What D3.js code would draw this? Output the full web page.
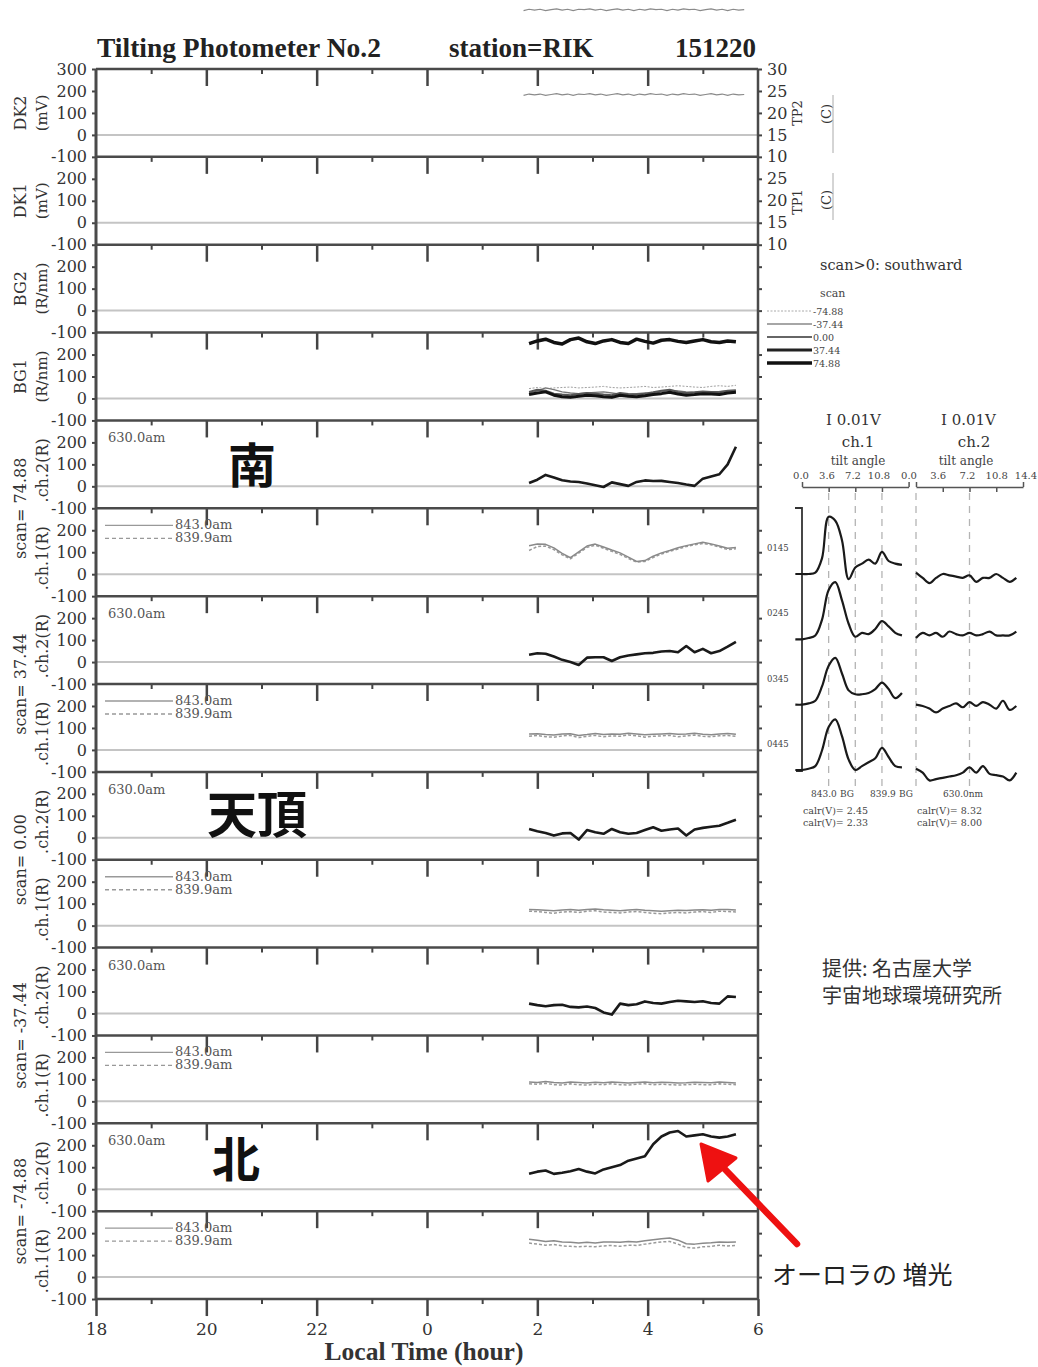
<!DOCTYPE html>
<html>
<head>
<meta charset="utf-8">
<script src="https://cdn.jsdelivr.net/npm/d3@7"></script>
<style>body{margin:0;background:#fff}</style>
</head>
<body>
<div id="chart"></div>
<script>
// ---- data ----
var hours = [1.85,2.0,2.15,2.3,2.45,2.6,2.75,2.9,3.05,3.2,3.35,3.5,3.65,3.8,3.95,4.1,4.25,4.4,4.55,4.7,4.85,5.0,5.15,5.3,5.45,5.6];

var tpHours = [1.75,1.85,1.95,2.05,2.15,2.25,2.35,2.45,2.55,2.65,2.75,2.85,2.95,3.05,3.15,3.25,3.35,3.45,3.55,3.65,3.75,3.85,3.95,4.05,4.15,4.25,4.35,4.45,4.55,4.65,4.75,4.85,4.95,5.05,5.15,5.25,5.35,5.45,5.55,5.65,5.75];
var tp2 = [24.0,24.3,24.1,24.3,24.0,24.2,24.4,24.1,24.3,24.0,24.3,24.2,24.4,24.1,24.3,24.0,24.2,24.4,24.1,24.3,24.0,24.3,24.1,24.4,24.2,24.3,24.0,24.3,24.1,24.4,24.2,24.3,24.0,24.2,24.4,24.1,24.3,24.0,24.3,24.1,24.2];
var tp1 = [63.3,63.6,63.4,63.6,63.3,63.5,63.7,63.4,63.6,63.3,63.6,63.5,63.7,63.4,63.6,63.3,63.5,63.7,63.4,63.6,63.3,63.6,63.4,63.7,63.5,63.6,63.3,63.6,63.4,63.7,63.5,63.6,63.3,63.5,63.7,63.4,63.6,63.3,63.6,63.4,63.5];

// BG1 (R/nm) per scan angle
var bg1_m7488 = [45,50,45,48,50,52,48,50,52,55,50,48,50,52,55,50,52,55,58,55,52,50,55,58,55,60];
var bg1_m3744 = [25,35,48,40,30,25,22,25,28,30,25,20,18,22,25,22,30,38,35,30,28,25,30,32,35,30];
var bg1_000   = [30,40,35,22,18,15,20,25,22,18,15,25,20,18,22,28,35,40,30,25,28,32,30,28,35,38];
var bg1_3744  = [18,25,30,15,8,5,10,15,12,8,5,15,10,8,12,18,22,28,20,15,18,22,20,18,25,28];
var bg1_7488  = [250,262,270,255,248,268,275,258,250,262,268,255,250,270,260,252,265,268,260,255,262,268,258,255,262,258];

// ch.2 630.0nm and ch.1 843.0 / 839.9nm (R) per scan angle
var s7488_ch2 = [15,30,52,40,28,22,20,13,5,-3,18,10,2,20,27,24,25,20,15,8,2,35,45,55,100,180];
var s7488_843 = [130,137,136,120,95,75,102,128,137,124,110,97,78,58,62,82,97,108,120,130,138,145,138,128,118,122];
var s7488_839 = [108,126,128,112,88,70,96,122,132,118,104,90,72,55,58,76,92,104,115,126,134,140,134,124,112,116];
var s3744_ch2 = [33,40,38,25,10,0,-13,20,22,22,5,22,30,35,40,42,48,50,45,73,45,60,40,50,70,92];
var s3744_843 = [72,74,70,68,72,74,66,70,75,70,73,71,76,73,69,71,73,75,71,73,76,71,69,73,75,71];
var s3744_839 = [62,66,60,58,64,66,56,62,66,60,64,62,68,64,58,62,64,66,60,64,68,62,60,64,66,62];
var s000_ch2  = [40,30,22,10,20,22,-8,35,25,18,40,25,18,22,35,48,32,38,42,10,38,45,50,55,68,82];
var s000_843  = [74,72,70,68,71,73,70,74,76,72,70,68,71,73,70,68,66,68,70,69,71,72,70,74,73,71];
var s000_839  = [66,64,60,56,62,64,60,66,68,62,60,58,62,64,60,56,54,58,60,58,62,64,60,66,64,62];
var sm3744_ch2 = [45,38,33,38,40,30,28,32,25,5,-5,45,38,42,55,48,45,52,58,55,52,56,48,45,78,75];
var sm3744_843 = [88,86,90,86,84,88,86,84,87,85,88,86,84,86,88,85,87,86,84,85,87,86,85,88,86,84];
var sm3744_839 = [80,78,82,76,74,80,76,74,78,76,80,76,74,78,80,76,78,76,74,76,78,76,76,80,78,76];
var sm7488_ch2 = [70,80,85,70,75,82,92,80,72,90,100,110,130,140,150,205,240,258,265,240,245,250,240,235,240,250];
var sm7488_843 = [172,168,162,165,160,158,155,158,155,160,160,158,162,160,165,170,175,178,168,152,150,154,156,160,158,160];
var sm7488_839 = [155,150,145,148,142,140,138,140,138,142,144,140,145,144,150,155,160,162,150,135,132,138,140,145,142,144];

var scanLabels = ["74.88","37.44","0.00","-37.44","-74.88"];
var legendScans = ["-74.88","-37.44","0.00","37.44","74.88"];
var panelTitles = [["DK2","(mV)"],["DK1","(mV)"],["BG2","(R/nm)"],["BG1","(R/nm)"]];

// right inset: tilt-angle profiles (mV)
var waveTimes = ["0145","0245","0345","0445"];
var ch1Angles = [-0.9,0,0.9,1.8,2.7,3.6,4.5,5.4,6.3,7.2,8.1,9.0,9.9,10.8,11.7,12.6,13.5];
var ch2Angles = [0,0.9,1.8,2.7,3.6,4.5,5.4,6.3,7.2,8.1,9.0,9.9,10.8,11.7,12.6,13.5];
var ch1_0145 = [0,0,0,1,12,44,41,26,-4,5,8,11,8,17,10,8,7];
var ch1_0245 = [0,0,1,3,15,38,44,30,12,2,5,4,8,14,10,5,3];
var ch1_0345 = [0,0,1,3,14,30,36,24,11,8,8,9,12,17,12,5,9];
var ch1_0445 = [0,0,1,3,15,33,39,26,8,0,3,6,9,17,10,3,2];
var ch2_0145 = [1,-3,-7,-3,0,-1,-2,-3,-1,-6,-3,-3,0,-3,-6,-3];
var ch2_0245 = [1,5,3,5,2,6,4,3,5,3,4,6,3,3,3,6];
var ch2_0345 = [0,-1,-3,-6,-3,-1,1,-2,2,-1,2,0,-3,3,-4,-1];
var ch2_0445 = [1,-2,-8,-7,-6,-5,-4,-2,2,-2,3,-3,-4,-5,-8,-2];
var ch1Ticks = [0,3.6,7.2,10.8];
var ch2Ticks = [0,3.6,7.2,10.8,14.4];

// ---- layout ----
var serif = "'DejaVu Serif', serif",
    times = "'Liberation Serif', serif",
    cjk = "'Noto Sans CJK JP', sans-serif";
var plotL = 96, plotR = 758, plotT = 69, ph = 87.86, np = 14;
var plotB = plotT + np * ph;

var svg = d3.select("#chart").append("svg")
    .attr("width", 1038).attr("height", 1367);

var x = d3.scaleLinear().domain([18, 30]).range([plotL, plotR]);
function lt(h) { return h < 12 ? h + 24 : h; }
function yOf(i) {
  return d3.scaleLinear().domain([-100, 300]).range([plotT + (i + 1) * ph, plotT + i * ph]);
}
var plain = function(d) { return String(d); };

// header
svg.append("text").attr("x", 97).attr("y", 57)
  .style("font-family", times).style("font-weight", "bold").style("font-size", "27.5px")
  .attr("fill", "#222").text("Tilting Photometer No.2");
svg.append("text").attr("x", 449).attr("y", 57)
  .style("font-family", times).style("font-weight", "bold").style("font-size", "27px")
  .attr("fill", "#222").text("station=RIK");
svg.append("text").attr("x", 756).attr("y", 57).attr("text-anchor", "end")
  .style("font-family", times).style("font-weight", "bold").style("font-size", "27px")
  .attr("fill", "#222").text("151220");

// panels
for (var i = 0; i < np; i++) {
  var y = yOf(i);
  var g = svg.append("g");

  // zero line
  g.append("line").attr("x1", plotL).attr("x2", plotR)
    .attr("y1", y(0)).attr("y2", y(0))
    .attr("stroke", "#c4c4c4").attr("stroke-width", 2);

  // ticks hanging from top border
  g.append("g").attr("transform", "translate(0," + y(300) + ")")
    .call(d3.axisBottom(x).tickValues([20, 22, 24, 26, 28]).tickSize(17).tickFormat(""))
    .call(function(a) { a.select(".domain").remove(); a.selectAll("line").attr("stroke", "#444").attr("stroke-width", 2.5); });
  g.append("g").attr("transform", "translate(0," + y(300) + ")")
    .call(d3.axisBottom(x).tickValues([19, 21, 23, 25, 27, 29]).tickSize(5).tickFormat(""))
    .call(function(a) { a.select(".domain").remove(); a.selectAll("line").attr("stroke", "#444").attr("stroke-width", 2); });

  // left axis
  g.append("g").attr("transform", "translate(" + plotL + ",0)")
    .call(d3.axisLeft(y).tickValues(i == 0 ? [300, 200, 100, 0, -100] : [200, 100, 0, -100])
      .tickSize(4).tickPadding(5).tickFormat(plain))
    .call(function(a) {
      a.select(".domain").remove();
      a.selectAll("line").attr("stroke", "#444").attr("stroke-width", 2);
      a.selectAll("text").attr("fill", "#333").style("font-family", serif).style("font-size", "16px");
    });

  // right ticks
  if (i > 1) {
    g.append("g").attr("transform", "translate(" + plotR + ",0)")
      .call(d3.axisRight(y).tickValues([200, 100, 0]).tickSize(4).tickFormat(""))
      .call(function(a) { a.select(".domain").remove(); a.selectAll("line").attr("stroke", "#444").attr("stroke-width", 2); });
  }

  // top border
  g.append("line").attr("x1", plotL).attr("x2", plotR)
    .attr("y1", y(300)).attr("y2", y(300))
    .attr("stroke", "#4a4a4a").attr("stroke-width", 2.5);
}

// bottom border and left/right frame
svg.append("line").attr("x1", plotL).attr("x2", plotR).attr("y1", plotB).attr("y2", plotB)
  .attr("stroke", "#4a4a4a").attr("stroke-width", 2.5);
svg.append("line").attr("x1", plotL).attr("x2", plotL).attr("y1", plotT).attr("y2", plotB)
  .attr("stroke", "#4a4a4a").attr("stroke-width", 3);
svg.append("line").attr("x1", plotR).attr("x2", plotR).attr("y1", plotT).attr("y2", plotB)
  .attr("stroke", "#4a4a4a").attr("stroke-width", 2.5);

// bottom time axis
svg.append("g").attr("transform", "translate(0," + plotB + ")")
  .call(d3.axisBottom(x).tickValues([18, 20, 22, 24, 26, 28, 30]).tickSize(17).tickPadding(7)
    .tickFormat(function(d) { return d % 24; }))
  .call(function(a) {
    a.select(".domain").remove();
    a.selectAll("line").attr("stroke", "#444").attr("stroke-width", 2.5);
    a.selectAll("text").attr("fill", "#333").style("font-family", serif).style("font-size", "17px");
  });
svg.append("g").attr("transform", "translate(0," + plotB + ")")
  .call(d3.axisBottom(x).tickValues([19, 21, 23, 25, 27, 29]).tickSize(5).tickFormat(""))
  .call(function(a) { a.select(".domain").remove(); a.selectAll("line").attr("stroke", "#444").attr("stroke-width", 2); });
svg.append("text").attr("x", 424).attr("y", 1360).attr("text-anchor", "middle")
  .style("font-family", times).style("font-weight", "bold").style("font-size", "25.5px")
  .attr("fill", "#333").text("Local Time (hour)");

// right temperature axes (TP2 on panel 0, TP1 on panel 1)
var tp2Scale = d3.scaleLinear().domain([10, 30]).range([plotT + ph, plotT]);
var tp1Scale = d3.scaleLinear().domain([10, 30]).range([plotT + 2 * ph, plotT + ph]);
[[tp2Scale, [30, 25, 20, 15, 10]], [tp1Scale, [25, 20, 15, 10]]].forEach(function(p) {
  svg.append("g").attr("transform", "translate(" + plotR + ",0)")
    .call(d3.axisRight(p[0]).tickValues(p[1]).tickSize(4).tickPadding(5))
    .call(function(a) {
      a.select(".domain").remove();
      a.selectAll("line").attr("stroke", "#444").attr("stroke-width", 2);
      a.selectAll("text").attr("fill", "#333").style("font-family", serif).style("font-size", "16px");
    });
});
function vtext(txt, cx, cy, size, fam, color) {
  svg.append("text").attr("transform", "translate(" + cx + "," + cy + ") rotate(-90)")
    .attr("text-anchor", "middle").attr("dominant-baseline", "central")
    .style("font-family", fam).style("font-size", size + "px").attr("fill", color || "#333").text(txt);
}
vtext("TP2", 797, 113, 13, serif);
vtext("(C)", 826, 114, 13, serif);
vtext("TP1", 797, 202, 13, serif);
vtext("(C)", 826, 200, 13, serif);
svg.append("line").attr("x1", 833).attr("x2", 833).attr("y1", 95).attr("y2", 153).attr("stroke", "#aaa");
svg.append("line").attr("x1", 833).attr("x2", 833).attr("y1", 173).attr("y2", 220).attr("stroke", "#aaa");

var tpLine2 = d3.line().x(function(d, k) { return x(lt(tpHours[k])); }).y(function(d) { return tp2Scale(d); });
var tpLine1 = d3.line().x(function(d, k) { return x(lt(tpHours[k])); }).y(function(d) { return tp1Scale(d); });
svg.append("path").attr("d", tpLine2(tp2)).attr("fill", "none").attr("stroke", "#8a8a8a").attr("stroke-width", 1.2);
svg.append("path").attr("d", tpLine1(tp1)).attr("fill", "none").attr("stroke", "#8a8a8a").attr("stroke-width", 1.2);

// panel titles (left)
panelTitles.forEach(function(t, k) {
  var cy = plotT + (k + 0.5) * ph;
  vtext(t[0], 20, cy, 16, serif);
  vtext(t[1], 42, cy, 15, serif);
});
scanLabels.forEach(function(s, k) {
  var i2 = 4 + 2 * k;
  vtext("scan= " + s, 20, plotT + (i2 + 1) * ph, 16, serif);
  vtext(".ch.2(R)", 42, plotT + (i2 + 0.5) * ph + 6, 16, serif);
  vtext(".ch.1(R)", 42, plotT + (i2 + 1.5) * ph + 6, 16, serif);
});

// series lines
function lineFor(i) {
  var y = yOf(i);
  return d3.line().x(function(d, k) { return x(lt(hours[k])); }).y(function(d) { return y(d); });
}
function draw(i, vals, color, w, dash) {
  svg.append("path").attr("d", lineFor(i)(vals)).attr("fill", "none")
    .attr("stroke", color).attr("stroke-width", w).attr("stroke-linejoin", "round")
    .attr("stroke-dasharray", dash || null);
}

// BG1
draw(3, bg1_m7488, "#a0a0a0", 1, "2,1.5");
draw(3, bg1_m3744, "#777", 1.3);
draw(3, bg1_000, "#555", 2);
draw(3, bg1_3744, "#111", 3);
draw(3, bg1_7488, "#111", 3.5);

var ch2Sets = [s7488_ch2, s3744_ch2, s000_ch2, sm3744_ch2, sm7488_ch2];
var ch843Sets = [s7488_843, s3744_843, s000_843, sm3744_843, sm7488_843];
var ch839Sets = [s7488_839, s3744_839, s000_839, sm3744_839, sm7488_839];

for (var k = 0; k < 5; k++) {
  var pi = 4 + 2 * k, pj = 5 + 2 * k;
  var ti = plotT + pi * ph, tj = plotT + pj * ph;
  // 630.0nm label
  svg.append("text").attr("x", 108).attr("y", ti + 22)
    .style("font-family", serif).style("font-size", "13px").attr("fill", "#555").text("630.0am");
  // ch.1 legend
  svg.append("line").attr("x1", 105).attr("x2", 173).attr("y1", tj + 17).attr("y2", tj + 17)
    .attr("stroke", "#999").attr("stroke-width", 1.3);
  svg.append("line").attr("x1", 105).attr("x2", 173).attr("y1", tj + 30).attr("y2", tj + 30)
    .attr("stroke", "#999").attr("stroke-width", 1.3).attr("stroke-dasharray", "4,3");
  svg.append("text").attr("x", 175).attr("y", tj + 21)
    .style("font-family", serif).style("font-size", "13px").attr("fill", "#555").text("843.0am");
  svg.append("text").attr("x", 175).attr("y", tj + 34)
    .style("font-family", serif).style("font-size", "13px").attr("fill", "#555").text("839.9am");

  draw(pi, ch2Sets[k], "#1a1a1a", 2.6);
  draw(pj, ch839Sets[k], "#9a9a9a", 1.5, "3,2");
  draw(pj, ch843Sets[k], "#8a8a8a", 1.5);
}

// big direction labels
svg.append("text").attr("x", 252).attr("y", 462).attr("text-anchor", "middle").attr("dominant-baseline", "central")
  .style("font-family", cjk).style("font-weight", "bold").style("font-size", "48px").attr("fill", "#111").text("南");
svg.append("text").attr("x", 207).attr("y", 811).attr("dominant-baseline", "central")
  .style("font-family", cjk).style("font-weight", "bold").style("font-size", "50px").attr("fill", "#111").text("天頂");
svg.append("text").attr("x", 212).attr("y", 1156).attr("dominant-baseline", "central")
  .style("font-family", cjk).style("font-weight", "bold").style("font-size", "48px").attr("fill", "#111").text("北");

// scan legend (right)
svg.append("text").attr("x", 820).attr("y", 270)
  .style("font-family", serif).style("font-size", "14.5px").attr("fill", "#333").text("scan>0: southward");
svg.append("text").attr("x", 820).attr("y", 297)
  .style("font-family", serif).style("font-size", "11px").attr("fill", "#444").text("scan");
var legY = d3.scalePoint().domain(legendScans).range([311, 363]);
var legStroke = ["#aaa", "#888", "#666", "#222", "#111"];
var legWidth = [1, 1.4, 2.2, 3, 3.4];
legendScans.forEach(function(s, k) {
  svg.append("line").attr("x1", 767).attr("x2", 812).attr("y1", legY(s)).attr("y2", legY(s))
    .attr("stroke", legStroke[k]).attr("stroke-width", legWidth[k])
    .attr("stroke-dasharray", k == 0 ? "2,1.5" : null);
  svg.append("text").attr("x", 813).attr("y", legY(s)).attr("dominant-baseline", "central")
    .style("font-family", serif).style("font-size", "9.5px").attr("fill", "#444").text(s);
});

// ---- right inset: tilt profiles ----
var a1 = d3.scaleLinear().domain([0, 14.4]).range([802, 908.6]);
var a2 = d3.scaleLinear().domain([0, 14.4]).range([916, 1023]);
var a1Lab = d3.scaleLinear().domain([0, 14.4]).range([801, 905]);
var a2Lab = d3.scaleLinear().domain([0, 14.4]).range([909, 1026]);
var base = d3.scalePoint().domain(waveTimes).range([574, 770]);
var amp = 1.3; // px per mV

[[826, 858, 858, "ch.1"], [941, 974, 966, "ch.2"]].forEach(function(h) {
  svg.append("text").attr("x", h[0]).attr("y", 425)
    .style("font-family", serif).style("font-size", "15px").attr("fill", "#333").text("I 0.01V");
  svg.append("text").attr("x", h[1]).attr("y", 447).attr("text-anchor", "middle")
    .style("font-family", serif).style("font-size", "15px").attr("fill", "#333").text(h[3]);
  svg.append("text").attr("x", h[2]).attr("y", 465).attr("text-anchor", "middle")
    .style("font-family", serif).style("font-size", "12px").attr("fill", "#444").text("tilt angle");
});
ch1Ticks.forEach(function(t) {
  svg.append("text").attr("x", a1Lab(t)).attr("y", 479).attr("text-anchor", "middle")
    .style("font-family", serif).style("font-size", "10px").attr("fill", "#444").text(t.toFixed(1));
});
ch2Ticks.forEach(function(t) {
  svg.append("text").attr("x", a2Lab(t)).attr("y", 479).attr("text-anchor", "middle")
    .style("font-family", serif).style("font-size", "10px").attr("fill", "#444").text(t.toFixed(1));
});
[a1, a2].forEach(function(sc) {
  svg.append("g").attr("transform", "translate(0,487)")
    .call(d3.axisBottom(sc).tickValues([3.6, 7.2, 10.8]).tickSize(5).tickSizeOuter(0).tickFormat(""))
    .call(function(a) { a.select(".domain").attr("stroke", "#555").attr("stroke-width", 1.5); a.selectAll("line").attr("stroke", "#555").attr("stroke-width", 1.5); });
  svg.append("g").attr("transform", "translate(0,487)")
    .call(d3.axisTop(sc).tickValues([0, 14.4]).tickSize(5).tickFormat(""))
    .call(function(a) { a.select(".domain").remove(); a.selectAll("line").attr("stroke", "#555").attr("stroke-width", 1.5); });
});
// guide lines
[[a1, 3.6], [a1, 7.2], [a1, 10.8], [a2, 0], [a2, 7.2]].forEach(function(p) {
  svg.append("line").attr("x1", p[0](p[1])).attr("x2", p[0](p[1])).attr("y1", 493).attr("y2", 790)
    .attr("stroke", "#b4b4b4").attr("stroke-width", 1.3).attr("stroke-dasharray", "7,6");
});
// bracket
svg.append("path").attr("d", "M795,508H802V771H796").attr("fill", "none")
  .attr("stroke", "#333").attr("stroke-width", 1.8);

var ch1Sets = [ch1_0145, ch1_0245, ch1_0345, ch1_0445];
var ch2WSets = [ch2_0145, ch2_0245, ch2_0345, ch2_0445];
waveTimes.forEach(function(t, k) {
  var b = base(t);
  var l1 = d3.line().curve(d3.curveCatmullRom)
    .x(function(d, j) { return a1(ch1Angles[j]); }).y(function(d) { return b - d * amp; });
  var l2 = d3.line().curve(d3.curveCatmullRom)
    .x(function(d, j) { return a2(ch2Angles[j]); }).y(function(d) { return b - d * amp; });
  svg.append("path").attr("d", l1(ch1Sets[k])).attr("fill", "none").attr("stroke", "#1a1a1a").attr("stroke-width", 2.2);
  svg.append("path").attr("d", l2(ch2WSets[k])).attr("fill", "none").attr("stroke", "#1a1a1a").attr("stroke-width", 2.2);
  svg.append("text").attr("x", 767).attr("y", b - 26).attr("dominant-baseline", "central")
    .style("font-family", serif).style("font-size", "8.5px").attr("fill", "#444").text(t);
});

var lab = [[811, "843.0"], [840, "BG"], [870, "839.9"], [899, "BG"], [943, "630.0nm"]];
lab.forEach(function(l) {
  svg.append("text").attr("x", l[0]).attr("y", 797)
    .style("font-family", serif).style("font-size", "9px").attr("fill", "#444").text(l[1]);
});
[[803, 814, "calr(V)= 2.45"], [803, 826, "calr(V)= 2.33"], [917, 814, "calr(V)= 8.32"], [917, 826, "calr(V)= 8.00"]]
  .forEach(function(l) {
    svg.append("text").attr("x", l[0]).attr("y", l[1])
      .style("font-family", serif).style("font-size", "9.5px").attr("fill", "#444").text(l[2]);
  });

// credits
svg.append("text").attr("x", 822).attr("y", 976)
  .style("font-family", cjk).style("font-size", "20px").attr("fill", "#333").text("提供: 名古屋大学");
svg.append("text").attr("x", 822).attr("y", 1003)
  .style("font-family", cjk).style("font-size", "20px").attr("fill", "#333").text("宇宙地球環境研究所");

// aurora annotation
svg.append("line").attr("x1", 797).attr("y1", 1244).attr("x2", 716).attr("y2", 1160)
  .attr("stroke", "#ee1111").attr("stroke-width", 6.5).attr("stroke-linecap", "round");
svg.append("path").attr("d", "M701,1144L708,1181L736,1158Z").attr("fill", "#ee1111")
  .attr("stroke", "#ee1111").attr("stroke-width", 3).attr("stroke-linejoin", "round");
svg.append("text").attr("x", 772).attr("y", 1284)
  .style("font-family", cjk).style("font-size", "25px").attr("fill", "#222").text("オーロラの 増光");
</script>
</body>
</html>
